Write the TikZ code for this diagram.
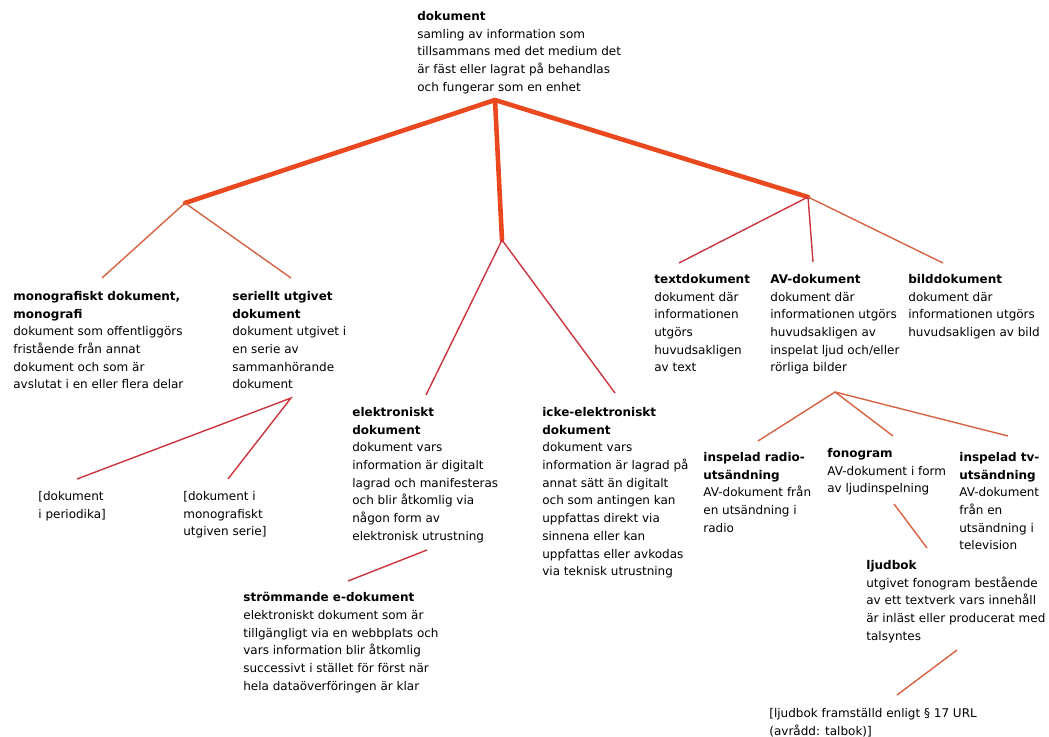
\documentclass[tikz,border=0pt]{standalone}
\usepackage{fontspec}
\setmainfont{DejaVu Sans}
\usetikzlibrary{positioning}
\definecolor{tjock}{RGB}{234,72,30}
\definecolor{rodlinje}{RGB}{204,52,62}
\definecolor{orangelinje}{RGB}{214,98,66}
\tikzset{every picture/.style={line width=0.75pt}}

\begin{document}
\begin{tikzpicture}[x=1pt, y=-1pt,
    term/.style={anchor=north west, inner sep=0pt, align=left,
      font=\fontsize{12}{17.7}\selectfont},
    huvud/.style={draw=tjock, line width=4.6pt, line cap=round, line join=round},
    gren/.style={draw=rodlinje, line width=1.4pt},
    gren2/.style={draw=orangelinje, line width=1.4pt}]
        \useasboundingbox (0,0) rectangle (1049,736);
        % begrepp
        \node[term] (dok) at (417,11) {\textbf{dokument}\\samling av information som\\tillsammans med det medium det\\är fäst eller lagrat på behandlas\\och fungerar som en enhet};
        \node[term] (mono) at (13,291) {\textbf{monografiskt dokument,}\\\textbf{monografi}\\dokument som offentliggörs\\fristående från annat\\dokument och som är\\avslutat i en eller flera delar};
        \node[term] (seri) at (232,291) {\textbf{seriellt utgivet}\\\textbf{dokument}\\dokument utgivet i\\en serie av\\sammanhörande\\dokument};
        \node[term] (peri) at (38,491) {[dokument\\i periodika]};
        \node[term] (monoserie) at (183,491) {[dokument i\\monografiskt\\utgiven serie]};
        \node[term] (elek) at (352,407) {\textbf{elektroniskt}\\\textbf{dokument}\\dokument vars\\information är digitalt\\lagrad och manifesteras\\och blir åtkomlig via\\någon form av\\elektronisk utrustning};
        \node[term] (icke) at (542,407) {\textbf{icke-elektroniskt}\\\textbf{dokument}\\dokument vars\\information är lagrad på\\annat sätt än digitalt\\och som antingen kan\\uppfattas direkt via\\sinnena eller kan\\uppfattas eller avkodas\\via teknisk utrustning};
        \node[term] (strom) at (243,592) {\textbf{strömmande e-dokument}\\elektroniskt dokument som är\\tillgängligt via en webbplats och\\vars information blir åtkomlig\\successivt i stället för först när\\hela dataöverföringen är klar};
        \node[term] (text) at (654,274) {\textbf{textdokument}\\dokument där\\informationen\\utgörs\\huvudsakligen\\av text};
        \node[term] (av) at (770,274) {\textbf{AV-dokument}\\dokument där\\informationen utgörs\\huvudsakligen av\\inspelat ljud och/eller\\rörliga bilder};
        \node[term] (bild) at (908,274) {\textbf{bilddokument}\\dokument där\\informationen utgörs\\huvudsakligen av bild};
        \node[term] (radio) at (703,452) {\textbf{inspelad radio-}\\\textbf{utsändning}\\AV-dokument från\\en utsändning i\\radio};
        \node[term] (fono) at (827,448) {\textbf{fonogram}\\AV-dokument i form\\av ljudinspelning};
        \node[term] (tv) at (959,452) {\textbf{inspelad tv-}\\\textbf{utsändning}\\AV-dokument\\från en\\utsändning i\\television};
        \node[term] (ljud) at (866,560) {\textbf{ljudbok}\\utgivet fonogram bestående\\av ett textverk vars innehåll\\är inläst eller producerat med\\talsyntes};
        \node[term] (ljudurl) at (769,708) {[ljudbok framställd enligt § 17 URL\\(avrådd: talbok)]};
        % förgreningspunkter och linjeändar
        \coordinate (rot) at (495,100);
        \coordinate (vgren) at (185,203);
        \coordinate (mgren) at (502,240);
        \coordinate (hgren) at (808,197);
        \coordinate (monoT) at (102,278);
        \coordinate (seriT) at (291,278);
        \coordinate (elekT) at (426,395);
        \coordinate (ickeT) at (615,393);
        \coordinate (textT) at (679,263);
        \coordinate (avT) at (813,262);
        \coordinate (bildT) at (943,263);
        \coordinate (seriB) at (291,398);
        \coordinate (periT) at (77,479);
        \coordinate (monoserieT) at (228,479);
        \coordinate (elekB) at (427,550);
        \coordinate (stromT) at (348,581);
        \coordinate (avB) at (835,392);
        \coordinate (radioT) at (758,441);
        \coordinate (fonoT) at (893,436);
        \coordinate (tvT) at (1008,436);
        \coordinate (fonoB) at (894,504);
        \coordinate (ljudT) at (927,548);
        \coordinate (ljudB) at (957,650);
        \coordinate (ljudurlT) at (897,695);
        % huvudgrenar
        \draw[huvud] (vgren) -- (rot) -- (hgren);
        \draw[huvud] (rot) -- (mgren);
        % undergrenar
        \draw[gren2] (monoT) -- (vgren) -- (seriT);
        \draw[gren] (elekT) -- (mgren) -- (ickeT);
        \draw[gren] (textT) -- (hgren) -- (avT);
        \draw[gren2] (hgren) -- (bildT);
        \draw[gren] (periT) -- (seriB) -- (monoserieT);
        \draw[gren] (elekB) -- (stromT);
        \draw[gren2] (radioT) -- (avB) -- (fonoT);
        \draw[gren2] (avB) -- (tvT);
        \draw[gren2] (fonoB) -- (ljudT);
        \draw[gren2] (ljudB) -- (ljudurlT);
\end{tikzpicture}
\end{document}
